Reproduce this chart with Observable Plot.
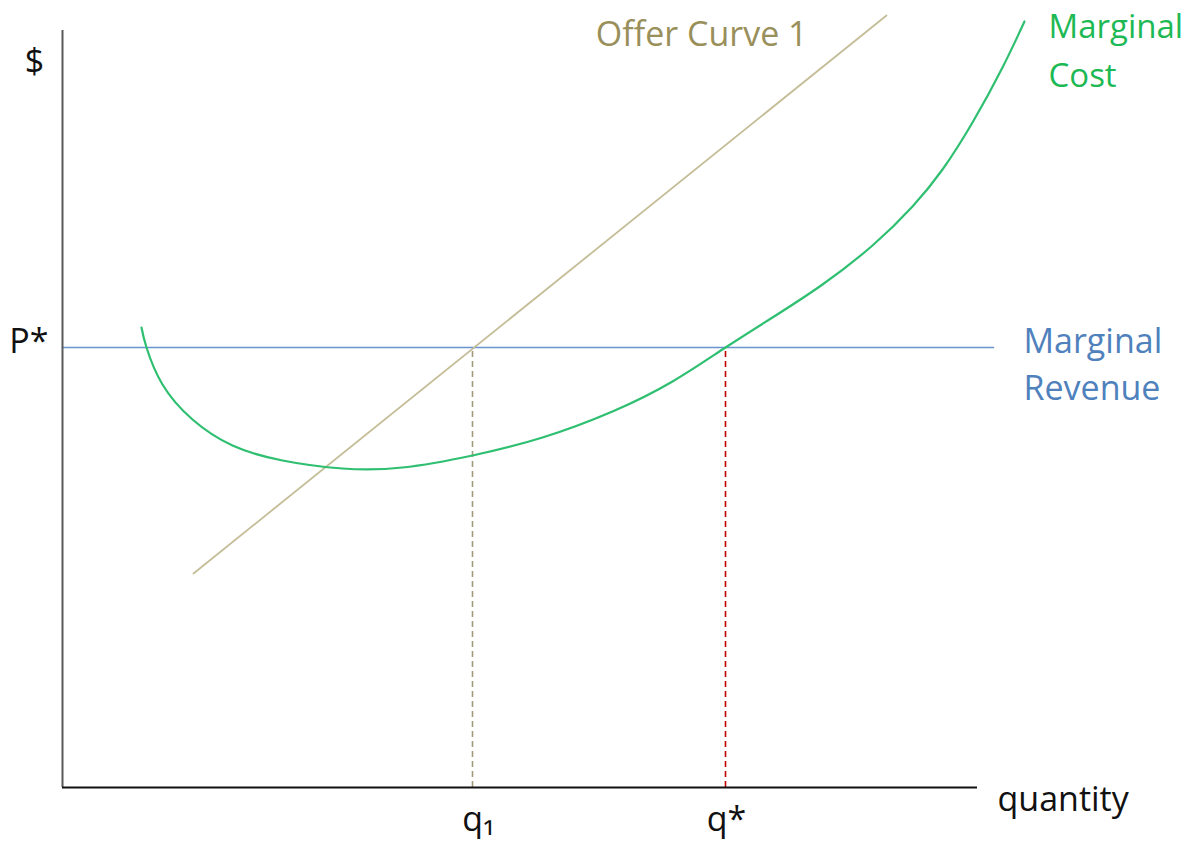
<!DOCTYPE html>
<html>
<head>
<meta charset="utf-8">
<script src="https://cdn.jsdelivr.net/npm/d3@7"></script>
<script src="https://cdn.jsdelivr.net/npm/@observablehq/plot@0.6"></script>
<style>
  html, body { margin: 0; padding: 0; background: #fff; }
  #chart svg { display: block; }
</style>
</head>
<body>
<div id="chart"></div>
<script>
// ---- data (arbitrary quantity / $ units) ----
const mcQuantity = [7.9, 8.4, 10.0, 13.0, 17.0, 22.0, 28.0, 34.0, 41.0, 48.0, 55.0, 61.0, 66.3, 71.0, 76.0, 81.0, 85.0, 88.0, 91.0, 94.0, 96.2];
const mcPrice    = [46.0, 44.0, 40.3, 36.8, 34.2, 32.7, 31.9, 32.0, 33.2, 35.0, 37.6, 40.6, 44.0, 47.0, 50.3, 54.2, 58.1, 61.8, 66.5, 72.0, 76.6];
const offerQuantity = [13.1, 82.4];
const offerPrice    = [21.4, 77.2];
const mrQuantity = [0, 93.1];
const mrPrice = 44;
const q1 = 41.0;
const qStar = 66.3;
const axisXMax = 91.5;
const axisYMax = 75.7;
const xTickLabels = ["q\u2081", "q*"];
const yTickLabel = "P*";

const mc = mcQuantity.map((q, i) => ({q, p: mcPrice[i]}));
const offer = offerQuantity.map((q, i) => ({q, p: offerPrice[i]}));
const mr = mrQuantity.map(q => ({q, p: mrPrice}));

const FONT = "'Open Sans', 'Noto Sans', sans-serif";
const FS = 34;

const chart = Plot.plot({
  width: 1194,
  height: 841,
  marginLeft: 62,
  marginRight: 0,
  marginTop: 0,
  marginBottom: 54,
  x: {domain: [0, 113.2], axis: null},
  y: {domain: [0, 78.7], axis: null},
  style: {fontFamily: FONT, background: "#fff"},
  marks: [
    // dashed drop lines
    Plot.ruleX([q1], {y1: 0, y2: mrPrice, stroke: "#a19b7c", strokeWidth: 1.6, strokeDasharray: "6,4"}),
    Plot.ruleX([qStar], {y1: 0, y2: mrPrice, stroke: "#c00000", strokeWidth: 1.6, strokeDasharray: "6,4"}),
    // marginal revenue
    Plot.line(mr, {x: "q", y: "p", stroke: "#6a93d0", strokeWidth: 1.6}),
    // offer curve
    Plot.line(offer, {x: "q", y: "p", stroke: "#c4bd97", strokeWidth: 1.8}),
    // marginal cost
    Plot.line(mc, {x: "q", y: "p", stroke: "#2fbf71", strokeWidth: 2.2, curve: "natural"}),
    // axes
    Plot.ruleX([0], {y1: 0, y2: axisYMax, stroke: "#5a5a5a", strokeWidth: 2}),
    Plot.ruleY([0], {x1: 0, x2: axisXMax, stroke: "#111", strokeWidth: 2}),
    // axis labels
    Plot.text([yTickLabel], {x: 0, y: mrPrice, text: d => d, textAnchor: "end", lineAnchor: "bottom", dx: -14, dy: 5, fontSize: FS, fill: "#111"}),
    Plot.text(["$"], {x: 0, y: axisYMax, text: d => d, textAnchor: "middle", lineAnchor: "bottom", dx: -28, dy: 42, fontSize: FS, fill: "#111"}),
    Plot.text([xTickLabels[0]], {x: q1, y: 0, text: d => d, textAnchor: "middle", lineAnchor: "bottom", dx: 6, dy: 43, fontSize: FS, fill: "#111"}),
    Plot.text([xTickLabels[1]], {x: qStar, y: 0, text: d => d, textAnchor: "middle", lineAnchor: "bottom", dx: 1, dy: 43, fontSize: FS, fill: "#111"}),
    Plot.text(["quantity"], {x: axisXMax, y: 0, text: d => d, textAnchor: "start", lineAnchor: "bottom", dx: 20, dy: 23, fontSize: FS, fill: "#111"}),
    // curve labels
    Plot.text([offer[offer.length - 1]], {x: "q", y: "p", text: () => "Offer Curve 1", textAnchor: "end", lineAnchor: "bottom", dx: -79, dy: 30, fontSize: FS, fill: "#998f5a"}),
    Plot.text([mc[mc.length - 1]], {x: "q", y: "p", text: () => "Marginal\nCost", textAnchor: "start", lineAnchor: "top", lineHeight: 1.5, dx: 24, dy: -19, fontSize: 33, fill: "#1db954"}),
    Plot.text([mr[mr.length - 1]], {x: "q", y: "p", text: () => "Marginal\nRevenue", textAnchor: "start", lineAnchor: "top", lineHeight: 1.41, dx: 30, dy: -29, fontSize: FS, fill: "#4f81bd"})
  ]
});
document.getElementById("chart").appendChild(chart);
</script>
</body>
</html>
